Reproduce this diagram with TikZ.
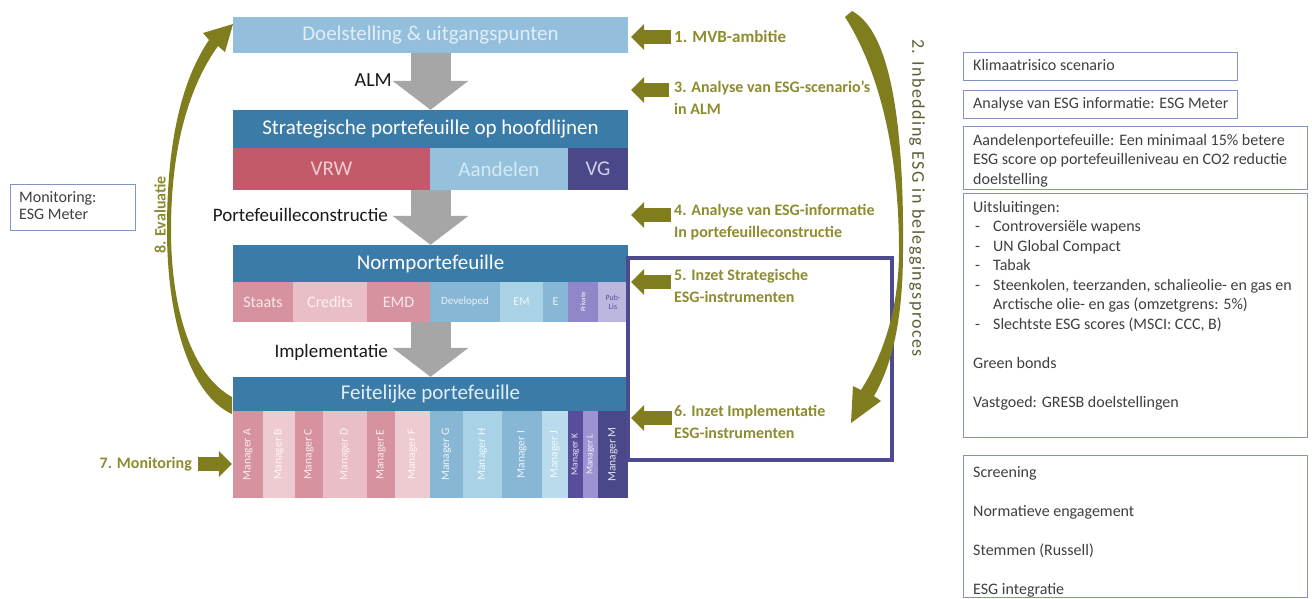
\documentclass[tikz,border=0pt]{standalone}
\usepackage{fontspec}
\setmainfont{Carlito}
\newfontfamily\inbedfont[LetterSpace=8]{Carlito}
\usetikzlibrary{arrows.meta,positioning}
\definecolor{doelblue}{HTML}{93BFDC}
\definecolor{doeltext}{HTML}{E2EEF7}
\definecolor{hdrblue}{HTML}{3A7BA7}
\definecolor{vrwred}{HTML}{C35A69}
\definecolor{aandblue}{HTML}{95C1DD}
\definecolor{vgpurple}{HTML}{4B4889}
\definecolor{pinkA}{HTML}{D6929E}
\definecolor{pinkB}{HTML}{E9BEC6}
\definecolor{pinkC}{HTML}{EECBD1}
\definecolor{blueA}{HTML}{87B7D5}
\definecolor{blueB}{HTML}{AAD2E7}
\definecolor{blueC}{HTML}{B9DBEB}
\definecolor{purpA}{HTML}{574D9C}
\definecolor{purpB}{HTML}{9E93D2}
\definecolor{purpC}{HTML}{8F87C8}
\definecolor{purpD}{HTML}{BCB7DE}
\definecolor{flowgray}{HTML}{A6A6A6}
\definecolor{olive}{HTML}{7F7D1E}
\definecolor{olivetext}{HTML}{8D8C2E}
\definecolor{inbedtext}{HTML}{5E5D35}
\definecolor{framepurple}{HTML}{4D4A8F}
\definecolor{boxline}{HTML}{8294C6}
\definecolor{boxtext}{HTML}{3F3F3F}
\newcommand{\dashitem}[1]{\makebox[20pt][l]{\hspace{2pt}-}#1}
\begin{document}
\begin{tikzpicture}[x=1pt,y=-1pt,
  block/.style={inner sep=0pt, minimum width=395pt, font=\fontsize{21}{24}\selectfont},
  header/.style={block, fill=hdrblue, text=white, minimum height=#1},
  cell/.style={inner sep=0pt, align=center},
  flow/.style={draw=flowgray, line width=40pt, -{Triangle[length=29pt,width=76pt,line width=0pt]}},
  mvbarrow/.style={draw=olive, line width=14pt, -{Triangle[length=13pt,width=26pt,line width=0pt]}},
  stepnote/.style={text=olivetext, font=\bfseries\fontsize{16}{22}\selectfont, inner sep=0pt, align=left},
  flowlabel/.style={font=\fontsize{19}{22}\selectfont, text=black!90, inner sep=0pt, anchor=east},
  infobox/.style={draw=boxline, line width=1.1pt, inner sep=0pt, anchor=north west},
  infotext/.style={text=boxtext, font=\fontsize{16}{19.5}\selectfont, inner sep=0pt, align=left, anchor=north west}]
\useasboundingbox[fill=white] (0,0) rectangle (1312,598);

% main flow
\node[block, fill=doelblue, text=doeltext, minimum height=36pt] (doel) at (430.5,35) {Doelstelling \& uitgangspunten};
\node[header=38pt] (strat) at (430.5,129) {Strategische portefeuille op hoofdlijnen};
\node[cell, fill=vrwred, text=pinkC, minimum width=197pt, minimum height=42pt, font=\fontsize{21}{24}\selectfont] (vrw) at (331.5,169) {VRW};
\node[cell, fill=aandblue, text=blueC!60!white, minimum width=138pt, minimum height=42pt, font=\fontsize{21}{24}\selectfont] (aand) at (499,169) {Aandelen};
\node[cell, fill=vgpurple, text=purpD!70!white, minimum width=60pt, minimum height=42pt, font=\fontsize{21}{24}\selectfont] (vg) at (598,169) {VG};

\node[header=37pt] (norm) at (430.5,263.5) {Normportefeuille};
\foreach \xa/\xb/\col/\fs/\txt [count=\i] in {233/293/pinkA/16/Staats, 293/367/pinkB/16/Credits, 367/430/pinkA/16/EMD, 430/500/blueA/11/Developed, 500/543/blueB/12/EM, 543/568/blueA/12/E}
  \node[cell, fill=\col, text=white, text opacity=.8, minimum width={(\xb-\xa)*1pt}, minimum height=40pt, font=\fontsize{\fs}{\fs}\selectfont] (np-\i) at ({(\xa+\xb)/2},302) {\txt};
\node[cell, fill=purpC, rotate=90, minimum width=40pt, minimum height=30pt, font=\fontsize{7}{7}\selectfont, text=white] (np-7) at (583,302) {Private};
\node[cell, fill=purpD, minimum width=30pt, minimum height=40pt, font=\fontsize{8}{8.5}\selectfont, text=purpA] (np-8) at (613,302) {Pub-\\Lis};

\node[header=34pt, text=doeltext] (feit) at (430.5,394) {Feitelijke portefeuille};
\foreach \xa/\xb/\col/\fs/\txt [count=\i] in {233/263/pinkA/11.5/Manager A, 263/295/pinkC/11.5/Manager B, 295/323/pinkA/11.5/Manager C, 323/367/pinkB/11.5/Manager D, 367/395/pinkA/11.5/Manager E, 395/430/pinkC/11.5/Manager F, 430/463/blueA/11.5/Manager G, 463/502/blueB/11.5/Manager H, 502/542/blueA/11.5/Manager I, 542/568/blueC/11.5/Manager J, 568/583/purpA/9.5/Manager K, 583/598/purpB/9.5/Manager L, 598/628/vgpurple/11.5/Manager M}
  \node[cell, fill=\col, rotate=90, text=white, text opacity=.85, minimum width=87pt, minimum height={(\xb-\xa)*1pt}, font=\fontsize{\fs}{\fs}\selectfont] (mgr-\i) at ({(\xa+\xb)/2},454.5) {\txt};

\draw[flow] (doel.south) -- (strat.north);
\draw[flow] (strat.center |- vrw.south) -- (norm.north);
\draw[flow] (norm.center |- np-1.south) -- (feit.north);
\node[flowlabel, font=\fontsize{20}{22}\selectfont] (alm) at (392,80) {ALM};
\node[flowlabel] (constr) at (388,215) {Portefeuilleconstructie};
\node[flowlabel] (impl) at (388,352) {Implementatie};

% instrumenten frame
\draw[framepurple, line width=3.5pt] (628,258) rectangle (892,460);

% ESG steps
\coordinate (s1) at (671,37);
\coordinate (s3) at (669,90);
\coordinate (s4) at (671,215);
\coordinate (s5) at (671,282);
\coordinate (s6) at (672,418);
\foreach \s in {s1,s3,s4,s5,s6}
  \draw[mvbarrow] (\s) -- ([xshift=3pt]\s -| doel.east);
\node[stepnote, anchor=west, font=\bfseries\fontsize{17}{22}\selectfont] (mvb) at (674,37) {1. MVB-ambitie};
\node[stepnote, anchor=north west] (scen) at (674,81) {3. Analyse van ESG-scenario's\\in ALM};
\node[stepnote, anchor=north west] (info) at (674,204) {4. Analyse van ESG-informatie\\In portefeuilleconstructie};
\node[stepnote, anchor=north west] (strinst) at (674,269) {5. Inzet Strategische\\ESG-instrumenten};
\node[stepnote, anchor=north west] (impinst) at (674,405) {6. Inzet Implementatie\\ESG-instrumenten};

\coordinate (s7) at (198,464);
\draw[mvbarrow] (s7) -- ([xshift=-1pt]s7 -| feit.west);
\node[stepnote, anchor=east] (monstep) at (192,464) {7. Monitoring};

% curved arrows
\fill[olive] (845,17) -- (852,11) .. controls (892,32) and (904,130) .. (903,250)
  .. controls (903,320) and (892,365) .. (874,396) -- (881,401) -- (851,423) -- (853,386) -- (861,390)
  .. controls (880,360) and (899,315) .. (899,250) .. controls (899,160) and (882,75) .. (845,17) -- cycle;
\node[rotate=-90, text=inbedtext, font=\inbedfont\fontsize{18}{22}\selectfont, inner sep=0pt] (inbed) at (917,198) {2. Inbedding ESG in beleggingsproces};

\fill[olive] (232,414) .. controls (190,395) and (167,320) .. (167,230)
  .. controls (167,140) and (182,80) .. (209,40) -- (203,33) -- (233,24) -- (225,52) -- (218,46)
  .. controls (190,85) and (171,145) .. (171,230) .. controls (171,310) and (192,375) .. (232,397) -- cycle;
\node[stepnote, rotate=90] (evalstep) at (160,215) {8. Evaluatie};

% left box
\node[infobox, minimum width=125pt, minimum height=46pt] (monbox) at (10,184) {};
\node[infotext, font=\fontsize{16}{17}\selectfont] (montxt) at ([xshift=9pt,yshift=-7pt]monbox.north west) {Monitoring:\\ESG Meter};

% right boxes
\node[infobox, minimum width=274pt, minimum height=28pt] (klimaat) at (963,52) {};
\node[infotext] (klimaattxt) at ([xshift=10pt,yshift=-7pt]klimaat.north west) {Klimaatrisico scenario};
\node[infobox, minimum width=274pt, minimum height=28pt] (meter) at (963,90) {};
\node[infotext] (metertxt) at ([xshift=10pt,yshift=-7pt]meter.north west) {Analyse van ESG informatie: ESG Meter};
\node[infobox, minimum width=344pt, minimum height=63pt] (aandbox) at (963,126) {};
\node[infotext] (aandtxt) at ([xshift=10pt,yshift=-8pt]aandbox.north west) {Aandelenportefeuille: Een minimaal 15\% betere\\ESG score op portefeuilleniveau en CO2 reductie\\doelstelling};
\node[infobox, minimum width=344pt, minimum height=244pt] (uitsl) at (963,193) {};
\node[infotext] (uitsltxt) at ([xshift=10pt,yshift=-8pt]uitsl.north west) {Uitsluitingen:\\
  \dashitem{Controversiële wapens}\\
  \dashitem{UN Global Compact}\\
  \dashitem{Tabak}\\
  \dashitem{Steenkolen, teerzanden, schalieolie- en gas en}\\
  \hspace*{20pt}Arctische olie- en gas (omzetgrens: 5\%)\\
  \dashitem{Slechtste ESG scores (MSCI: CCC, B)}\\[19.5pt]
  Green bonds\\[19.5pt]
  Vastgoed: GRESB doelstellingen};
\node[infobox, minimum width=344pt, minimum height=142pt] (impbox) at (963,455) {};
\node[infotext] (imptxt) at ([xshift=10pt,yshift=-11pt]impbox.north west) {Screening\\[19.5pt]Normatieve engagement\\[19.5pt]Stemmen (Russell)\\[19.5pt]ESG integratie};
\end{tikzpicture}
\end{document}
